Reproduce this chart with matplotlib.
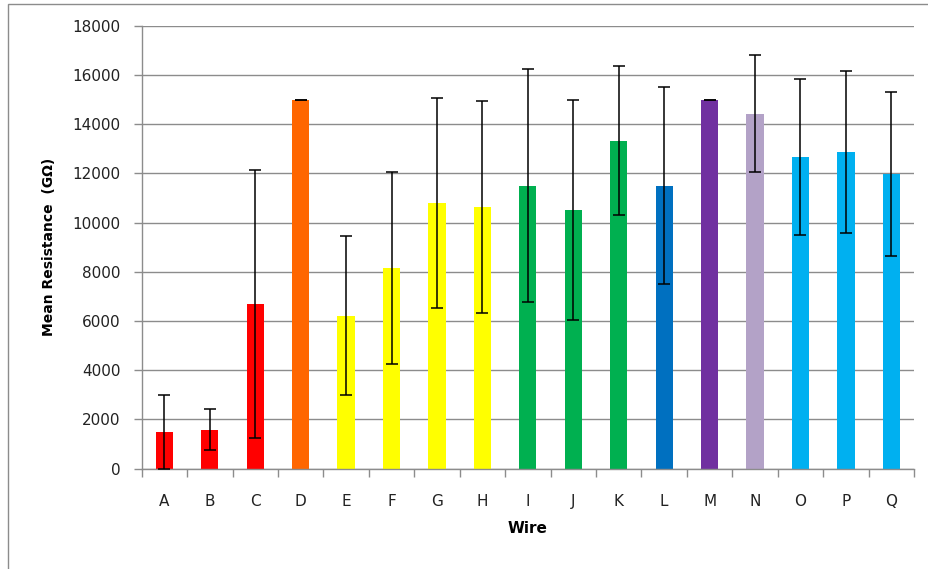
import matplotlib
matplotlib.use('Agg')
import matplotlib.pyplot as plt
from matplotlib.patches import Rectangle
import numpy as np

# 数据
wires = ['A', 'B', 'C', 'D', 'E', 'F', 'G', 'H', 'I', 'J', 'K', 'L', 'M', 'N', 'O', 'P', 'Q']
mean_res = [1480, 1590, 6680, 15000, 6220, 8150, 10780, 10640, 11500, 10520, 13320, 11500, 15000, 14430, 12670, 12870, 11990]
err = [1500, 820, 5440, 0, 3230, 3900, 4270, 4310, 4730, 4470, 3030, 4000, 0, 2380, 3160, 3290, 3330]
colors = ['#FF0000', '#FF0000', '#FF0000', '#FF6600', '#FFFF00', '#FFFF00', '#FFFF00', '#FFFF00',
          '#00B050', '#00B050', '#00B050', '#0070C0', '#7030A0', '#B3A2C7',
          '#00B0F0', '#00B0F0', '#00B0F0']

plt.rcParams['font.family'] = 'DejaVu Sans'
grey = '#8c8c8c'

fig = plt.figure(figsize=(9.29, 5.69), dpi=100)
ax = fig.add_axes([0.1525, 0.1763, 0.8314, 0.7785])

x = np.arange(len(wires))
ax.bar(x, mean_res, width=0.38, color=colors, zorder=2)
ax.errorbar(x, mean_res, yerr=err, fmt='none', ecolor='black', elinewidth=1.1,
            capsize=4, capthick=1.1, zorder=3)

ax.set_xlim(-0.5, len(wires) - 0.5)
ax.set_ylim(0, 18000)
ax.set_yticks(range(0, 18001, 2000))
ax.set_xticks(x)
ax.set_xticklabels(wires)
ax.set_xticks(np.arange(-0.5, len(wires), 1), minor=True)
ax.tick_params(axis='x', which='major', length=0, pad=18, labelsize=11, colors='#222222')
ax.tick_params(axis='x', which='minor', length=6, color=grey, width=1)
ax.tick_params(axis='y', length=6, color=grey, width=1, labelsize=11, pad=9, labelcolor='#222222')

ax.grid(axis='y', color=grey, linewidth=1, zorder=0)
ax.set_axisbelow(True)
for s in ['top', 'right']:
    ax.spines[s].set_visible(False)
for s in ['left', 'bottom']:
    ax.spines[s].set_color(grey)
    ax.spines[s].set_linewidth(1)

ax.set_xlabel('Wire', fontsize=11, fontweight='bold', labelpad=9)
ax.set_ylabel('Mean Resistance  (GΩ)', fontsize=10, fontweight='bold', labelpad=12)

# 外框
fig.patches.append(Rectangle((8 / 929, -0.1), 1.2, 1.1 - 3.7 / 569,
                             transform=fig.transFigure, fill=False,
                             edgecolor=grey, linewidth=1))

fig.savefig('out.png', dpi=100)
